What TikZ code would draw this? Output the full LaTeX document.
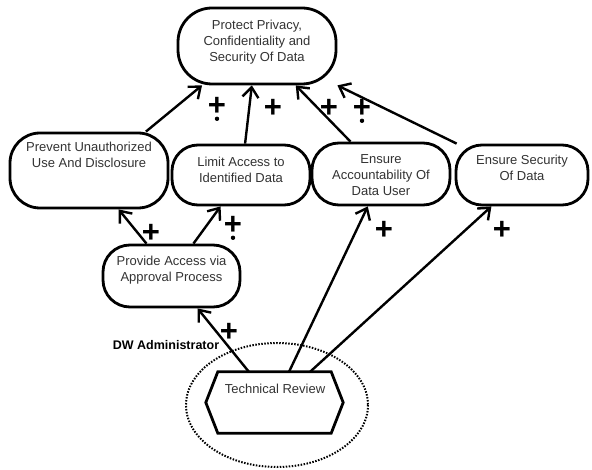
\documentclass[tikz,border=0pt]{standalone}
\usepackage{fontspec}
\setmainfont{Liberation Sans}
\usetikzlibrary{arrows.meta,calc}
\begin{document}
\begin{tikzpicture}[x=1pt,y=-1pt,
  goal/.style={draw, line width=2.8pt, inner sep=0pt},
  txt/.style={font=\fontsize{13}{16}\selectfont, text=black!80, align=center, inner sep=0pt},
  conn/.style={line width=2.4pt, -{Straight Barb[length=10pt,width=16pt,line width=2.4pt]}},
  plus/.style={font=\fontsize{31}{31}\selectfont\bfseries, inner sep=0pt},
  dotmark/.style={fill=black}
]
\fill[white] (0,0) rectangle (592,470);
\useasboundingbox (0,0) rectangle (592,470);

% goals
\node[goal, rounded corners=34pt, minimum width=158pt, minimum height=76pt] (protect) at (257,46) {};
\node[txt] (protectT) at (257,42) {Protect Privacy,\\Confidentiality and\\Security Of Data};

\node[goal, rounded corners=30pt, minimum width=158pt, minimum height=75pt] (prevent) at (89,170.5) {};
\node[txt] (preventT) at (89,155) {Prevent Unauthorized\\Use And Disclosure};

\node[goal, rounded corners=26pt, minimum width=138pt, minimum height=60pt] (limit) at (241,175) {};
\node[txt] (limitT) at (241,170) {Limit Access to\\Identified Data};

\node[goal, rounded corners=27pt, minimum width=138pt, minimum height=62pt] (account) at (381,174) {};
\node[txt] (accountT) at (381,175) {Ensure\\Accountability Of\\Data User};

\node[goal, rounded corners=26pt, minimum width=132pt, minimum height=60pt] (security) at (522,175) {};
\node[txt] (securityT) at (522,168) {Ensure Security\\Of Data};

\node[goal, rounded corners=27pt, minimum width=137pt, minimum height=62pt] (provide) at (171.5,276) {};
\node[txt] (provideT) at (171.5,270) {Provide Access via\\Approval Process};

% technical review (hexagon)
\node[minimum width=113pt, minimum height=61pt, inner sep=0pt] (techrev) at (274.5,402.5) {};
\draw[line width=2.8pt, line join=miter]
  (techrev.north west) -- (techrev.north east) -- ($(techrev.east)+(12,0)$)
  -- (techrev.south east) -- (techrev.south west) -- ($(techrev.west)+(-12,0)$) -- cycle;
\node[txt] (techrevT) at (275,389) {Technical Review};

% dotted boundary
\draw[line width=2pt, dash pattern=on 1.5pt off 1.5pt] (277,405) ellipse [x radius=91, y radius=62];

\node[font=\fontsize{12.5}{15}\selectfont\bfseries, inner sep=0pt] (dwadmin) at (166,345) {DW Administrator};

% connectors
\draw[conn] ($(prevent.north west)!0.854!(prevent.north east)$) -- ($(protect.south west)!0.158!(protect.south east)$);
\draw[conn] ($(limit.north west)!0.529!(limit.north east)$) -- ($(protect.south west)!0.468!(protect.south east)$);
\draw[conn] ($(account.north west)!0.283!(account.north east)$) -- ($(protect.south west)!0.741!(protect.south east)$);
\draw[conn] ($(security.north west)!0.015!(security.north east)$) -- ($(protect.south west)!1.0!(protect.south east)$);
\draw[conn] ($(provide.north west)!0.321!(provide.north east)$) -- ($(prevent.south west)!0.684!(prevent.south east)$);
\draw[conn] ($(provide.north west)!0.657!(provide.north east)$) -- ($(limit.south west)!0.355!(limit.south east)$);
\draw[conn] ($(techrev.north west)!0.274!(techrev.north east)$) -- ($(provide.south west)!0.686!(provide.south east)$);
\draw[conn] ($(techrev.north west)!0.628!(techrev.north east)$) -- ($(account.south west)!0.406!(account.south east)$);
\draw[conn] ($(techrev.north west)!0.814!(techrev.north east)$) -- ($(security.south west)!0.273!(security.south east)$);

% contribution labels
\node[plus] (p1) at (217,106) {+};
\fill[dotmark] ($(p1.south)+(0,3.5)$) circle (2.2pt);
\node[plus] (p2) at (273,108) {+};
\node[plus] (p3) at (329,108) {+};
\node[plus] (p4) at (362,108) {+};
\fill[dotmark] ($(p4.south)+(0,3.5)$) circle (2.2pt);
\node[plus] (p5) at (151,233) {+};
\node[plus] (p6) at (233,225) {+};
\fill[dotmark] ($(p6.south)+(0,3.5)$) circle (2.2pt);
\node[plus] (p7) at (229,332) {+};
\node[plus] (p8) at (384,230) {+};
\node[plus] (p9) at (502,230) {+};
\end{tikzpicture}
\end{document}
